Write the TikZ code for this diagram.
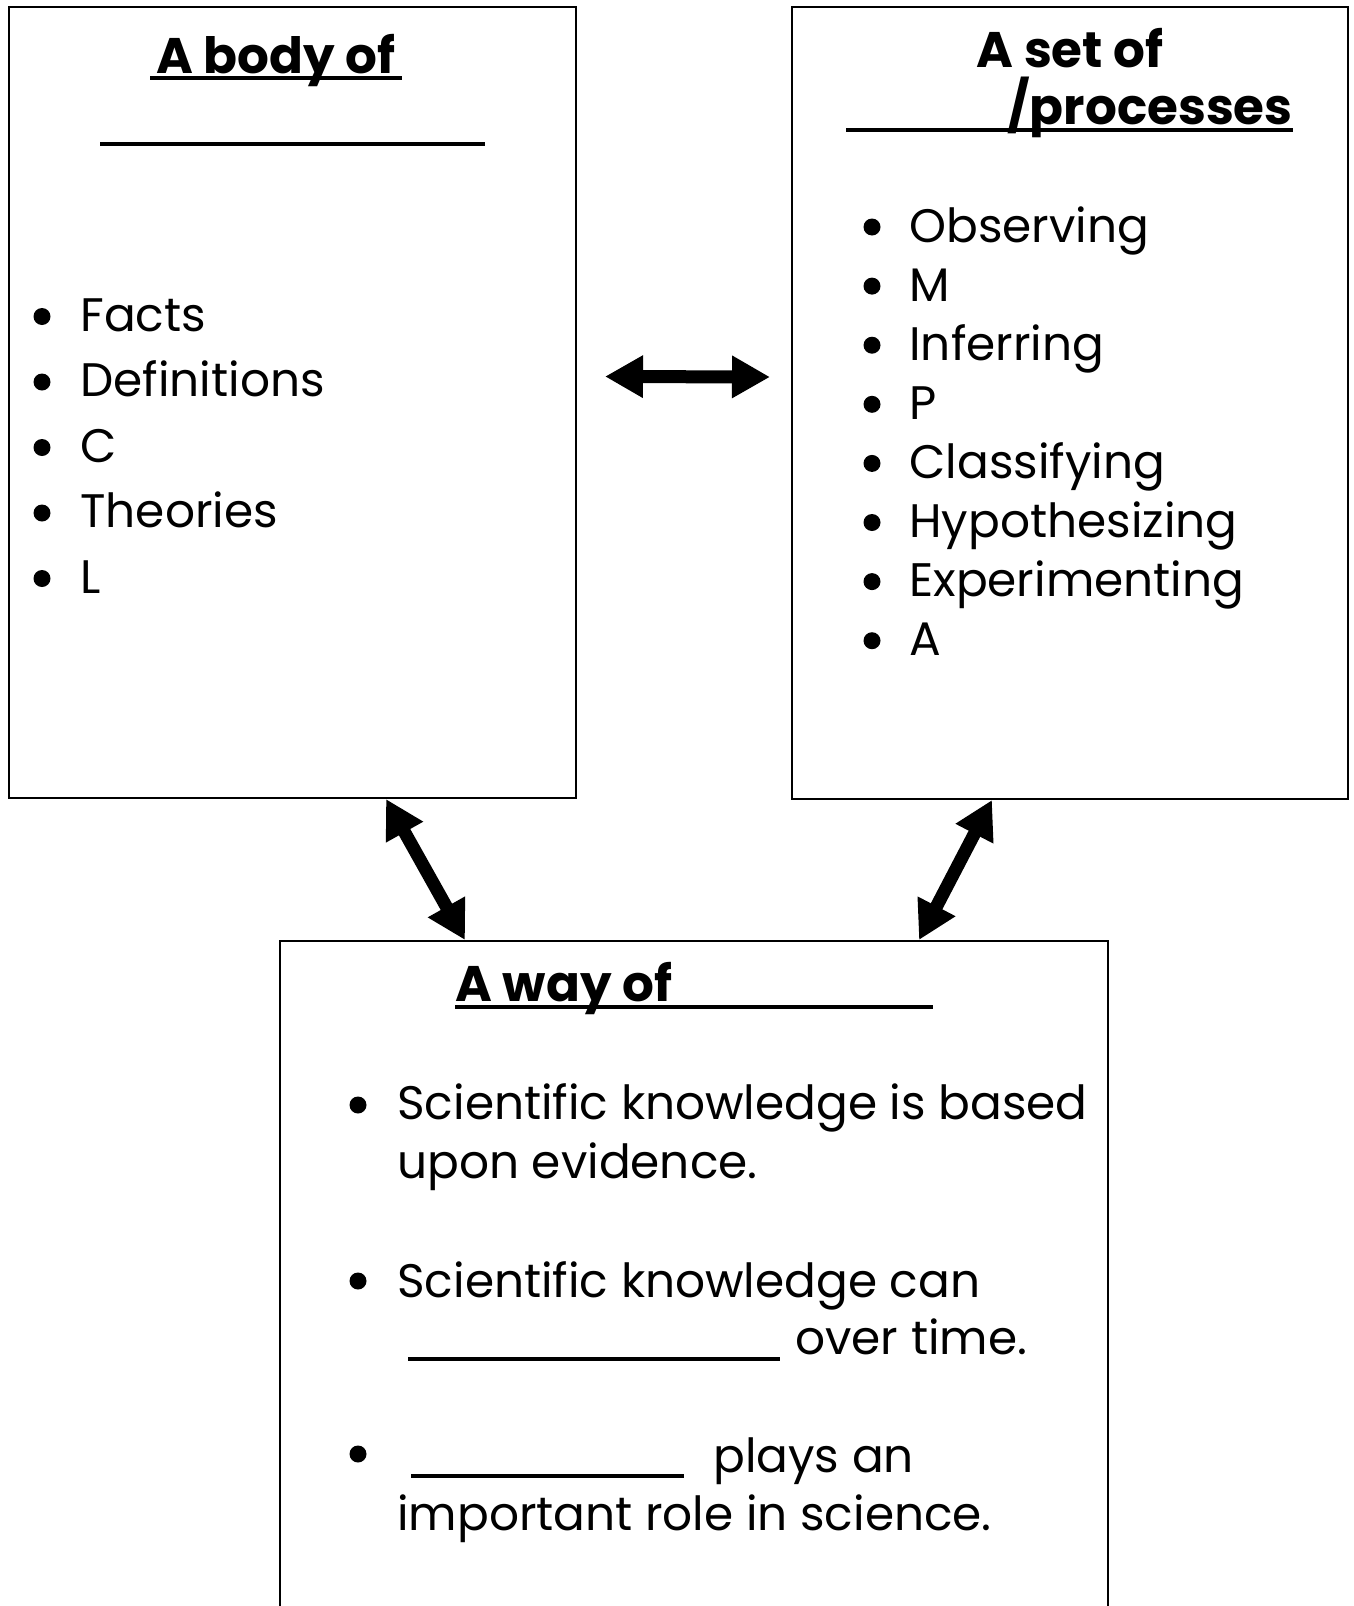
\documentclass[tikz,border=0pt]{standalone}
\usepackage{fontspec}
\setmainfont{Poppins}
\usetikzlibrary{arrows.meta}
\begin{document}
\begin{tikzpicture}[x=0.5pt, y=-0.5pt,
    box/.style = {draw, line width=1pt, inner sep=0pt},
    item/.style = {anchor=base west, inner sep=0pt, font=\fontsize{23.5}{29}\selectfont},
    dot/.style = {circle, fill, inner sep=0pt, minimum size=8.5pt},
    head/.style = {inner sep=0pt, font=\fontsize{25}{30}\selectfont\bfseries},
    blank/.style = {line width=2pt},
    link/.style = {line width=6.5pt, {Triangle[length=19pt, width=20pt]}-{Triangle[length=19pt, width=20pt]}}]
\useasboundingbox (0,0) rectangle (1354,1606);
% the three boxes
\node[box, minimum width=283.5pt, minimum height=395.5pt] (body) at (292.5,402.5) {};
\node[box, minimum width=278pt, minimum height=396pt] (set) at (1070,403) {};
\node[box, minimum width=414pt, minimum height=354.5pt] (way) at (694,1295.5) {};
% headings
\node[head, anchor=base] (bodyhead) at (276,73.7) {A body of};
\draw[blank] (150,78) -- (402,78);
\draw[blank] (100,144) -- (485,144);
\node[head, anchor=base] (sethead) at (1070,67.6) {A set of};
\node[head, anchor=base east] (sethead2) at (1293,124) {/processes};
\draw[blank] (846,130) -- (1293,130);
\node[head, anchor=base west] (wayhead) at (455,1001.7) {A way of};
\draw[blank] (455,1007) -- (933,1007);
% body of knowledge
\foreach \t [count=\i] in {Facts, Definitions, C, Theories, L} {
    \node[dot] at (42,316.5+65.5*\i-65.5) {};
    \node[item] (b\i) at (80,331+65.5*\i-65.5) {\t};
}
% skills
\foreach \t [count=\i] in {Observing, M, Inferring, P, Classifying, Hypothesizing, Experimenting, A} {
    \node[dot] at (872,227+59.1*\i-59.1) {};
    \node[item] (s\i) at (909,242+59.1*\i-59.1) {\t};
}
% way of thinking
\node[dot] at (358,1105) {};
\node[item] (w1) at (397,1119.5) {Scientific knowledge is based};
\node[item] (w1b) at (397,1178) {upon evidence.};
\node[dot] at (358,1281) {};
\node[item] (w2) at (397,1297) {Scientific knowledge can};
\draw[blank] (408,1359) -- (780,1359);
\node[item] (w2b) at (795,1354) {over time.};
\node[dot] at (358,1454) {};
\draw[blank] (411,1476) -- (684,1476);
\node[item] (w3) at (713,1472) {plays an};
\node[item] (w3b) at (397,1530) {important role in science.};
% arrows
\draw[link] ([shift={(14pt,13pt)}]body.east) -- ([shift={(-10.5pt,13pt)}]set.west);
\draw[link] ([xshift=189pt]body.south west) -- ([xshift=93pt]way.north west);
\draw[link] ([xshift=100.5pt]set.south west) -- ([xshift=320pt]way.north west);
\end{tikzpicture}
\end{document}
